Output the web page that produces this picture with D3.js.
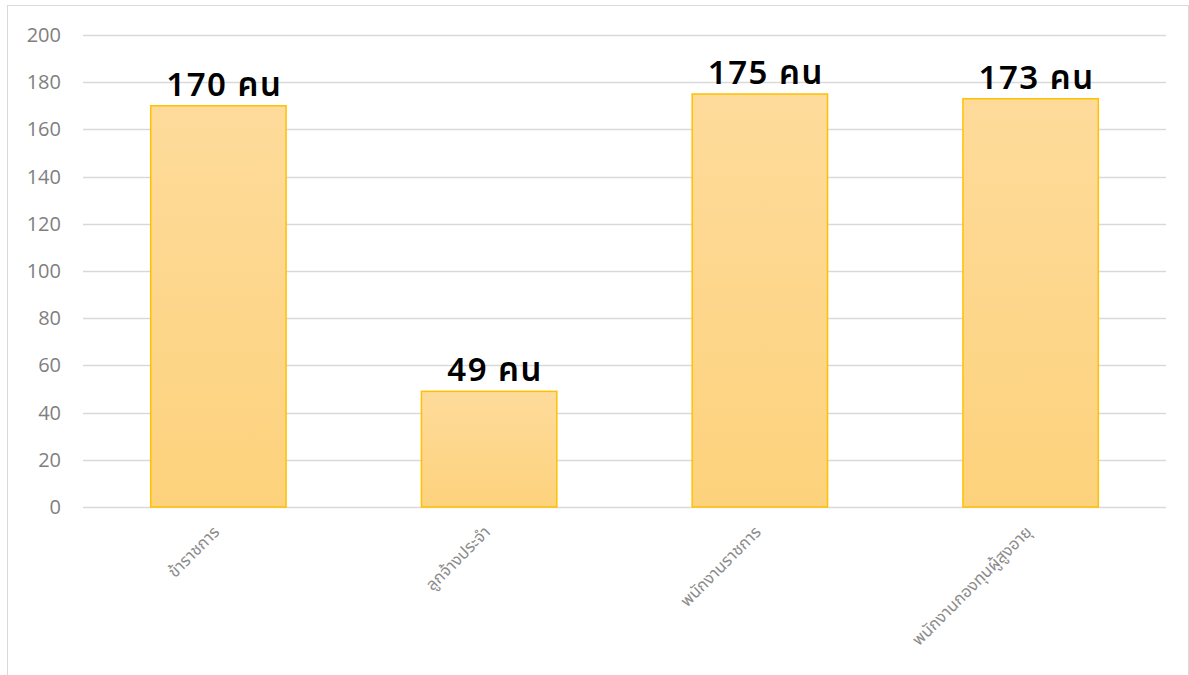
<!DOCTYPE html>
<html>
<head>
<meta charset="utf-8">
<script src="https://cdn.jsdelivr.net/npm/d3@7"></script>
<style>
  body { margin: 0; background: #fff; }
  svg { display: block; }
</style>
</head>
<body>
<svg id="output"></svg>
<script>
// values
const categories = ["ข้าราชการ", "ลูกจ้างประจำ", "พนักงานราชการ", "พนักงานกองทุนผู้สูงอายุ"];
const counts = [170, 49, 175, 173];
const yTicks = [0, 20, 40, 60, 80, 100, 120, 140, 160, 180, 200];
const unit = "คน";

const width = 1189;
const height = 675;
const margin = {top: 35, right: 23, bottom: 168, left: 83};

const svg = d3.select("#output")
    .attr("width", width)
    .attr("height", height);

// gradient for the bars (light at top, a bit stronger at bottom)
const grad = svg.append("defs").append("linearGradient")
    .attr("id", "barFill")
    .attr("x1", 0).attr("y1", 0).attr("x2", 0).attr("y2", 1);
grad.append("stop").attr("offset", "0%").attr("stop-color", "#fedb9b");
grad.append("stop").attr("offset", "100%").attr("stop-color", "#fdd27c");

// outer chart border
svg.append("rect")
    .attr("x", 7.5).attr("y", 5.5)
    .attr("width", width - 8).attr("height", height)
    .attr("fill", "none")
    .attr("stroke", "#d9d9d9")
    .attr("stroke-width", 1);

const xScale = d3.scaleBand()
    .domain(categories)
    .range([margin.left, width - margin.right])
    .paddingInner(0.5)
    .paddingOuter(0.25);

const yScale = d3.scaleLinear()
    .domain([0, 200])
    .range([height - margin.bottom, margin.top]);

// grid lines
svg.append("g")
    .selectAll("line")
    .data(yTicks)
    .enter()
    .append("line")
    .attr("x1", margin.left)
    .attr("x2", width - margin.right)
    .attr("y1", d => Math.round(yScale(d)) + 0.5)
    .attr("y2", d => Math.round(yScale(d)) + 0.5)
    .attr("stroke", "#d9d9d9")
    .attr("stroke-width", 1.5);

// y axis labels
const yAxis = svg.append("g")
    .attr("transform", `translate(${margin.left - 22},0)`)
    .call(d3.axisLeft(yScale).tickValues(yTicks).tickSize(0).tickPadding(0));
yAxis.select(".domain").remove();
yAxis.selectAll("text")
    .attr("fill", "#7f7f7f")
    .style("font-family", "'Segoe UI', 'Open Sans', 'Noto Sans', sans-serif")
    .style("font-size", "20px");

// bars
svg.append("g")
    .selectAll("rect")
    .data(counts)
    .enter()
    .append("rect")
    .attr("x", (d, i) => xScale(categories[i]))
    .attr("y", d => yScale(d))
    .attr("width", xScale.bandwidth())
    .attr("height", d => yScale(0) - yScale(d))
    .attr("fill", "url(#barFill)")
    .attr("stroke", "#ffc000")
    .attr("stroke-width", 1.5);

// value labels
svg.append("g")
    .selectAll("text")
    .data(counts)
    .enter()
    .append("text")
    .attr("x", (d, i) => xScale(categories[i]) + xScale.bandwidth() / 2 + 6)
    .attr("y", d => yScale(d) - 10)
    .attr("text-anchor", "middle")
    .attr("fill", "#000")
    .style("font-family", "Tahoma, 'Leelawadee UI', 'Noto Sans Thai', 'DejaVu Sans', sans-serif")
    .style("font-size", "33px")
    .style("font-weight", "600")
    .style("letter-spacing", "1.5px")
    .text(d => d + " " + unit);

// category labels, rotated
svg.append("g")
    .selectAll("text")
    .data(categories)
    .enter()
    .append("text")
    .attr("transform", d => `translate(${xScale(d) + xScale.bandwidth() / 2 + 2},${yScale(0) + 26}) rotate(-45)`)
    .attr("text-anchor", "end")
    .attr("fill", "#8c8c8c")
    .style("font-family", "Tahoma, 'Leelawadee UI', 'Noto Sans Thai', 'DejaVu Sans', sans-serif")
    .style("font-size", "16.5px")
    .text(d => d);
</script>
</body>
</html>
